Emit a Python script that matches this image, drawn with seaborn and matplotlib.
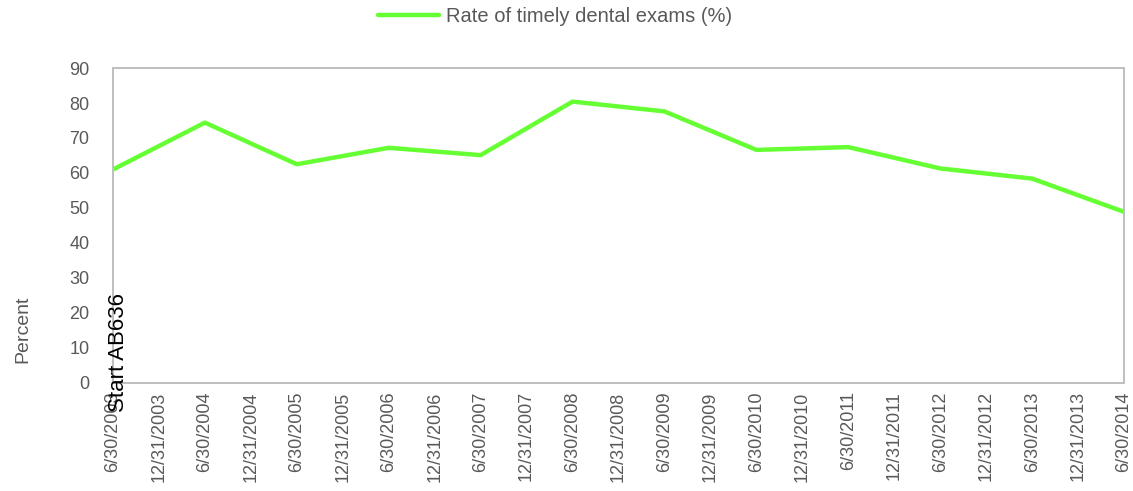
import numpy as np
import pandas as pd
import matplotlib
matplotlib.use("Agg")
import matplotlib.pyplot as plt
import matplotlib.transforms as mtransforms
from matplotlib.lines import Line2D
import seaborn as sns

# Reporting dates (semi-annual) and timely dental exam rate (%), reported each June 30
dates = [
    "6/30/2003", "12/31/2003", "6/30/2004", "12/31/2004", "6/30/2005", "12/31/2005",
    "6/30/2006", "12/31/2006", "6/30/2007", "12/31/2007", "6/30/2008", "12/31/2008",
    "6/30/2009", "12/31/2009", "6/30/2010", "12/31/2010", "6/30/2011", "12/31/2011",
    "6/30/2012", "12/31/2012", "6/30/2013", "12/31/2013", "6/30/2014",
]
rate = [
    61.0, np.nan, 74.4, np.nan, 62.5, np.nan,
    67.2, np.nan, 65.1, np.nan, 80.4, np.nan,
    77.6, np.nan, 66.6, np.nan, 67.4, np.nan,
    61.3, np.nan, 58.4, np.nan, 48.9,
]
series_label = "Rate of timely dental exams (%)"
y_ticks = [0, 10, 20, 30, 40, 50, 60, 70, 80, 90]
marker_text = "Start AB636"

sns.set_style("white")
plt.rcParams["font.family"] = ["Liberation Sans", "DejaVu Sans"]

line_color = "#66FF33"
text_gray = "#595959"
frame_gray = "#BFBFBF"

df = pd.DataFrame({"pos": np.arange(len(dates)), "date": dates, "rate": rate}).dropna()

fig = plt.figure(figsize=(11.33, 4.91), dpi=100)
ax = fig.add_axes([0.0997, 0.22, 0.8924, 0.6415])

sns.lineplot(data=df, x="pos", y="rate", ax=ax, color=line_color,
             linewidth=3.2, label=series_label, legend=False)

ax.set_xlim(0, len(dates) - 1)
ax.set_ylim(0, 90)
ax.set_xticks(np.arange(len(dates)))
ax.set_xticklabels(dates, rotation=90, fontsize=13, color=text_gray)
ax.set_yticks(y_ticks)
ax.set_yticklabels([str(t) for t in y_ticks], fontsize=13, color=text_gray)
ax.tick_params(axis="y", length=0, pad=17)
ax.tick_params(axis="x", length=0, pad=6)
ax.set_xlabel("")
ax.set_ylabel("Percent", fontsize=14, color=text_gray)
ax.yaxis.set_label_coords(-0.081, 0.17)

for sp in ax.spines.values():
    sp.set_color(frame_gray)
    sp.set_linewidth(1.4)

# Program start annotation at the first reporting date
trans = mtransforms.blended_transform_factory(ax.transData, ax.transAxes)
ax.text(0.11, -0.092, marker_text, transform=trans, rotation=90,
        ha="center", va="bottom", fontsize=16, color="black")

handle = Line2D([], [], color=line_color, linewidth=3.2)
fig.legend([handle], [series_label], loc="center", bbox_to_anchor=(0.49, 1 - 17 / 491),
           frameon=False, fontsize=14.5, labelcolor=text_gray,
           handlelength=3.0, handletextpad=0.35)

fig.savefig("out.png", dpi=100, facecolor="white")
